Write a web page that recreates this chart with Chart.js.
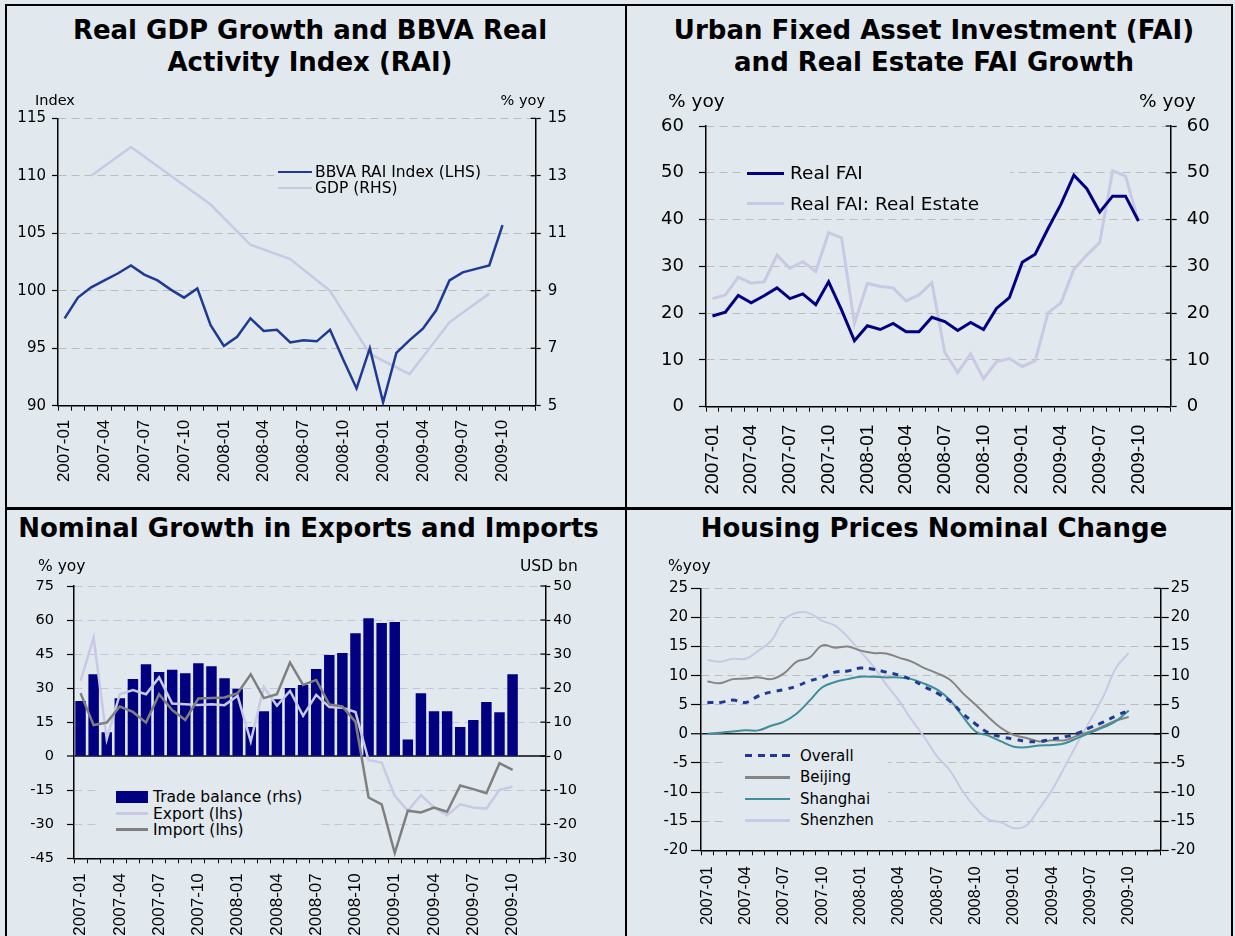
<!DOCTYPE html>
<html><head><meta charset="utf-8">
<script src="https://cdn.jsdelivr.net/npm/chart.js@4.4.1/dist/chart.umd.min.js"></script>
<style>
html,body{margin:0;padding:0;background:#E1E9EF;}
#page{position:relative;width:1235px;height:936px;overflow:hidden;background:#E1E9EF;font-family:"DejaVu Sans",sans-serif;color:#000;}
.t{position:absolute;white-space:nowrap;z-index:3;}
.title{font-weight:bold;font-size:26px;line-height:32px;text-align:center;}
canvas{position:absolute;z-index:1;}
.bd{position:absolute;background:#000;z-index:4;}
.sw{position:absolute;z-index:3;}
.lg{position:absolute;background:#E1E9EF;z-index:2;}
</style></head><body><div id="page">
<div class="bd" style="left:5px;top:4px;width:2px;height:932px"></div>
<div class="bd" style="left:5px;top:4px;width:1228px;height:2px"></div>
<div class="bd" style="left:1231px;top:4px;width:2px;height:932px"></div>
<div class="bd" style="left:625px;top:4px;width:2px;height:932px"></div>
<div class="bd" style="left:5px;top:507px;width:1228px;height:3px"></div>

<div class="t title" style="left:6px;top:14px;width:608px">Real GDP Growth and BBVA Real<br>Activity Index (RAI)</div>
<div class="t title" style="left:640px;top:14px;width:588px">Urban Fixed Asset Investment (FAI)<br>and Real Estate FAI Growth</div>
<div class="t title" style="left:6px;top:512px;width:605px">Nominal Growth in Exports and Imports</div>
<div class="t title" style="left:640px;top:512px;width:588px">Housing Prices Nominal Change</div>

<div class="t" style="left:35px;top:91px;font-size:14.5px;line-height:18px">Index</div>
<div class="t" style="left:500px;top:91px;width:45px;text-align:right;font-size:14.5px;line-height:18px">% yoy</div>
<div class="t" style="left:668px;top:89px;font-size:18.5px;line-height:24px">% yoy</div>
<div class="t" style="left:1139px;top:89px;font-size:18.5px;line-height:24px">% yoy</div>
<div class="t" style="left:38px;top:557px;font-size:15.5px;line-height:18px">% yoy</div>
<div class="t" style="left:520px;top:557px;font-size:15.5px;line-height:18px">USD bn</div>
<div class="t" style="left:668px;top:557px;font-size:15.5px;line-height:18px">%yoy</div>

<canvas id="c1" width="612" height="410" style="left:8px;top:96px"></canvas>
<canvas id="c2" width="600" height="410" style="left:630px;top:96px"></canvas>
<canvas id="c3" width="612" height="376" style="left:8px;top:560px"></canvas>
<canvas id="c4" width="600" height="376" style="left:630px;top:560px"></canvas>

<!-- legend backgrounds (opaque like the original legend boxes) -->
<div class="lg" style="left:274px;top:164px;width:213px;height:31px"></div>
<div class="lg" style="left:745px;top:158px;width:265px;height:56px"></div>
<div class="lg" style="left:100px;top:779px;width:221px;height:64px"></div>
<div class="lg" style="left:723px;top:742px;width:165px;height:90px"></div>

<!-- legends -->
<div class="sw" style="left:278px;top:170.8px;width:34px;height:2.5px;background:#1F3A93"></div>
<div class="t" style="left:315px;top:163px;font-size:15.5px;line-height:18px">BBVA RAI Index (LHS)</div>
<div class="sw" style="left:278px;top:186.8px;width:34px;height:2.5px;background:#C9C9E3"></div>
<div class="t" style="left:315px;top:179px;font-size:15.5px;line-height:18px">GDP (RHS)</div>

<div class="sw" style="left:747px;top:171.5px;width:37px;height:3px;background:#000080"></div>
<div class="t" style="left:790px;top:161px;font-size:18.5px;line-height:24px">Real FAI</div>
<div class="sw" style="left:747px;top:202px;width:37px;height:3px;background:#C9C9E3"></div>
<div class="t" style="left:790px;top:191.5px;font-size:18.5px;line-height:24px">Real FAI: Real Estate</div>

<div class="sw" style="left:116px;top:791px;width:32px;height:12px;background:#000080"></div>
<div class="t" style="left:153px;top:788px;font-size:15.5px;line-height:18px">Trade balance (rhs)</div>
<div class="sw" style="left:116px;top:812.3px;width:32px;height:2.5px;background:#C9C9E3"></div>
<div class="t" style="left:153px;top:804.5px;font-size:15.5px;line-height:18px">Export (lhs)</div>
<div class="sw" style="left:116px;top:828.3px;width:32px;height:2.5px;background:#7F7F7F"></div>
<div class="t" style="left:153px;top:820.5px;font-size:15.5px;line-height:18px">Import (lhs)</div>

<div class="sw" style="left:745px;top:754.2px;width:46px;height:3px;background:repeating-linear-gradient(to right,#1F3A93 0 7px,transparent 7px 12.5px)"></div>
<div class="t" style="left:800px;top:746.7px;font-size:15px;line-height:18px">Overall</div>
<div class="sw" style="left:745px;top:776px;width:45px;height:2.5px;background:#858585"></div>
<div class="t" style="left:800px;top:768.3px;font-size:15px;line-height:18px">Beijing</div>
<div class="sw" style="left:745px;top:797.7px;width:45px;height:2.5px;background:#408E98"></div>
<div class="t" style="left:800px;top:790px;font-size:15px;line-height:18px">Shanghai</div>
<div class="sw" style="left:745px;top:819px;width:45px;height:2.5px;background:#C9C9E3"></div>
<div class="t" style="left:800px;top:811.3px;font-size:15px;line-height:18px">Shenzhen</div>
</div>
<script>
const months = ['2007-01','2007-02','2007-03','2007-04','2007-05','2007-06','2007-07','2007-08','2007-09','2007-10','2007-11','2007-12',
  '2008-01','2008-02','2008-03','2008-04','2008-05','2008-06','2008-07','2008-08','2008-09','2008-10','2008-11','2008-12',
  '2009-01','2009-02','2009-03','2009-04','2009-05','2009-06','2009-07','2009-08','2009-09','2009-10','2009-11','2009-12'];

// Panel 1
const raiIndex = [97.6, 99.4, 100.3, 100.9, 101.5, 102.2, 101.4, 100.9, 100.1, 99.4, 100.2, 97.0,
  95.2, 96.0, 97.6, 96.5, 96.6, 95.5, 95.7, 95.6, 96.6, 94.0, 91.5, 95.0,
  90.3, 94.6, 95.7, 96.7, 98.3, 100.9, 101.6, 101.9, 102.2, 105.7];
const gdpGrowth = [null, null, 13.0, null, null, 14.0, null, null, 13.0, null, null, 12.0,
  null, null, 10.6, null, null, 10.1, null, null, 9.0, null, null, 6.8,
  null, null, 6.1, null, null, 7.9, null, null, 8.9];

// Panel 2
const realFAI = [19.4, 20.2, 23.8, 22.2, 23.7, 25.4, 23.1, 24.1, 21.8, 26.7, 20.7, 14.1,
  17.3, 16.5, 17.8, 16.0, 16.0, 19.1, 18.2, 16.3, 18.0, 16.5, 21.0, 23.3,
  30.9, 32.6, 38.1, 43.3, 49.5, 46.6, 41.6, 45.0, 45.0, 39.7];
const realEstateFAI = [23.1, 23.9, 27.7, 26.4, 26.7, 32.4, 29.6, 31.0, 28.9, 37.2, 36.1, 17.8,
  26.4, 25.7, 25.4, 22.6, 23.9, 26.5, 11.6, 7.3, 11.3, 6.0, 9.6, 10.3,
  8.6, 9.8, 20.1, 22.2, 29.4, 32.4, 35.1, 50.4, 49.3, 39.6];

// Panel 3
const tradeBalance = [16.2, 24.1, 7.0, 17.0, 22.7, 27.0, 24.7, 25.4, 24.4, 27.3, 26.4, 22.9,
  19.8, 8.6, 13.2, 16.7, 20.0, 20.9, 25.6, 29.7, 30.3, 36.1, 40.5, 39.1,
  39.4, 4.9, 18.5, 13.2, 13.2, 8.6, 10.6, 15.9, 12.9, 24.1];
const exportGrowth = [33.2, 52.3, 7.5, 27.3, 29.1, 27.3, 34.7, 23.2, 22.9, 22.6, 22.9, 22.5,
  26.6, 6.5, 30.5, 22.2, 28.8, 17.8, 27.0, 21.7, 21.4, 19.5, -1.8, -2.8,
  -17.5, -24.1, -17.1, -22.6, -26.0, -21.2, -22.6, -23.1, -14.8, -13.4];
const importGrowth = [27.8, 13.7, 14.8, 21.9, 19.5, 14.8, 27.3, 20.3, 16.0, 25.4, 25.6, 25.9,
  27.8, 36.1, 25.6, 27.3, 41.3, 31.4, 33.6, 22.8, 21.9, 15.1, -18.2, -21.2,
  -42.7, -24.0, -24.8, -22.6, -24.5, -12.9, -14.5, -16.3, -3.1, -6.0];

// Panel 4
const overall = [5.4, 5.4, 5.8, 5.4, 6.5, 7.2, 7.6, 8.2, 9.1, 9.7, 10.6, 10.8,
  11.3, 11.1, 10.6, 10.1, 9.3, 8.1, 7.0, 5.6, 3.5, 1.7, 0.2, -0.5,
  -0.9, -1.3, -1.3, -0.9, -0.5, 0.1, 1.1, 2.0, 3.1, 4.0];
const beijing = [9.0, 8.7, 9.4, 9.5, 9.7, 9.4, 10.4, 12.4, 13.1, 15.2, 14.8, 15.0,
  14.3, 13.9, 13.8, 13.1, 12.4, 11.3, 10.4, 9.3, 7.0, 5.0, 2.9, 1.0,
  -0.2, -0.7, -1.3, -1.1, -1.1, -0.3, 0.4, 1.3, 2.3, 2.9];
const shanghai = [0.0, 0.2, 0.4, 0.6, 0.6, 1.4, 2.1, 3.5, 5.7, 8.0, 8.9, 9.4,
  9.8, 9.8, 9.7, 9.7, 9.4, 8.6, 7.6, 5.8, 3.0, 0.4, -0.3, -1.3,
  -2.2, -2.3, -2.0, -1.9, -1.6, -0.7, 0.2, 1.1, 2.2, 4.0];
const shenzhen = [12.7, 12.4, 12.9, 12.9, 14.3, 16.0, 19.6, 20.8, 20.7, 19.4, 18.6, 16.6,
  14.1, 11.6, 8.5, 5.7, 2.4, -0.6, -3.9, -6.3, -9.9, -12.7, -14.7, -15.2,
  -16.2, -15.7, -12.8, -9.6, -5.6, -1.5, 2.4, 6.4, 11.3, 13.9];

const NAVY = '#000080', RAI_BLUE = '#1F3A93', LAV = '#C9C9E3', GRAY = '#7F7F7F', TEAL = '#408E98';

// draws the inner half of the right-axis tick marks (they cross the axis in the original)
const innerTicks = {
  id: 'innerTicks',
  afterDraw(chart, args, opts) {
    const s = chart.scales.y2;
    if (!s || !opts.len) return;
    const ctx = chart.ctx;
    ctx.save();
    ctx.strokeStyle = '#000';
    ctx.lineWidth = 1.2;
    s.ticks.forEach(t => {
      const y = s.getPixelForValue(t.value);
      ctx.beginPath();
      ctx.moveTo(s.left, y);
      ctx.lineTo(s.left - opts.len, y);
      ctx.stroke();
    });
    ctx.restore();
  }
};
Chart.register(innerTicks);

function xScale(h, pad, size) {
  return {
    type: 'category', offset: true,
    grid: { offset: true, drawOnChartArea: false, drawTicks: true, tickLength: 5, color: '#000', tickColor: '#000', lineWidth: 1 },
    border: { display: true, color: '#000', width: 1.5 },
    ticks: { autoSkip: false, minRotation: 90, maxRotation: 90, padding: pad, color: '#000',
      font: { family: 'Liberation Sans', size: size },
      callback: (v, i) => (i % 3 === 0 ? months[i] : '') },
    afterFit: (s) => { s.height = h; }
  };
}
function yScale(pos, min, max, step, w, size, tickLen, pad, g) {
  const on = !!g;
  return {
    position: pos, min: min, max: max,
    ticks: { stepSize: step, padding: pad, color: '#000', font: { family: 'DejaVu Sans', size: size } },
    grid: { drawOnChartArea: on, drawTicks: true, tickLength: tickLen, tickColor: '#000', tickWidth: 1.2,
      color: on ? (c => (c.tick ? g.color(c.tick.value) : '#000')) : '#000',
      lineWidth: on ? (c => (c.tick ? g.width(c.tick.value) : 1)) : 1 },
    border: { display: true, color: '#000', width: 1.5,
      dash: on ? (c => (c.tick ? g.dash(c.tick.value) : [])) : [] },
    afterFit: (s) => { s.width = w; }
  };
}
function baseOpts(padTop, innerLen, scales) {
  return {
    responsive: false, animation: false, devicePixelRatio: 1, events: [],
    layout: { padding: { top: padTop, left: 0, right: 0, bottom: 0 } },
    plugins: { legend: { display: false }, tooltip: { enabled: false }, title: { display: false },
      innerTicks: { len: innerLen } },
    elements: { point: { radius: 0 }, line: { tension: 0 } },
    scales: scales
  };
}
const dashedGrid = (bottom, col) => ({
  color: v => (v === bottom ? 'rgba(0,0,0,0)' : col),
  width: v => 1,
  dash: v => [8, 5]
});

// Panel 1
new Chart(document.getElementById('c1'), {
  type: 'line',
  data: { labels: months, datasets: [
    { label: 'BBVA RAI Index (LHS)', data: raiIndex, yAxisID: 'y', borderColor: RAI_BLUE, borderWidth: 2.5, order: 1 },
    { label: 'GDP (RHS)', data: gdpGrowth, yAxisID: 'y2', borderColor: LAV, borderWidth: 2.5, spanGaps: true, order: 2 }
  ]},
  options: baseOpts(22.3, 5, {
    x: xScale(100.3, 9, 17),
    y: yScale('left', 90, 115, 5, 50, 15, 6, 6, dashedGrid(90, '#BDBDBD')),
    y2: yScale('right', 5, 15, 2, 84.3, 15, 5, 7, null)
  })
});

// Panel 2
new Chart(document.getElementById('c2'), {
  type: 'line',
  data: { labels: months, datasets: [
    { label: 'Real FAI', data: realFAI, yAxisID: 'y', borderColor: NAVY, borderWidth: 3, order: 1 },
    { label: 'Real FAI: Real Estate', data: realEstateFAI, yAxisID: 'y2', borderColor: LAV, borderWidth: 3, order: 2 }
  ]},
  options: baseOpts(30, 5, {
    x: xScale(99.3, 13, 19),
    y: yScale('left', 0, 60, 10, 76, 18, 7, 15, dashedGrid(0, '#BDBDBD')),
    y2: yScale('right', 0, 60, 10, 59.3, 18, 6, 10, null)
  })
});

// Panel 3
new Chart(document.getElementById('c3'), {
  type: 'bar',
  data: { labels: months, datasets: [
    { type: 'bar', label: 'Trade balance (rhs)', data: tradeBalance, yAxisID: 'y2', backgroundColor: NAVY,
      barPercentage: 0.8, categoryPercentage: 1.0, order: 3 },
    { type: 'line', label: 'Export (lhs)', data: exportGrowth, yAxisID: 'y', borderColor: LAV, borderWidth: 2.5, order: 2 },
    { type: 'line', label: 'Import (lhs)', data: importGrowth, yAxisID: 'y', borderColor: GRAY, borderWidth: 2.5, order: 1 }
  ]},
  options: baseOpts(26, 5, {
    x: xScale(77.7, 10, 17),
    y: yScale('left', -45, 75, 15, 66, 14.5, 7, 13, {
      color: v => (v === -45 ? 'rgba(0,0,0,0)' : (v === 0 ? '#404040' : '#C4C4E2')),
      width: v => (v === 0 ? 2 : 1),
      dash: v => (v === 0 ? [] : [8, 5])
    }),
    y2: yScale('right', -30, 50, 10, 74.7, 14.5, 5, 3, null)
  })
});

// Panel 4
new Chart(document.getElementById('c4'), {
  type: 'line',
  data: { labels: months, datasets: [
    { label: 'Overall', data: overall, yAxisID: 'y', borderColor: RAI_BLUE, borderWidth: 3, borderDash: [6, 6], tension: 0.4, order: 1 },
    { label: 'Beijing', data: beijing, yAxisID: 'y', borderColor: '#858585', borderWidth: 2, tension: 0.4, order: 3 },
    { label: 'Shanghai', data: shanghai, yAxisID: 'y', borderColor: TEAL, borderWidth: 2, tension: 0.4, order: 2 },
    { label: 'Shenzhen', data: shenzhen, yAxisID: 'y', borderColor: LAV, borderWidth: 2, tension: 0.4, order: 4 }
  ]},
  options: baseOpts(28.3, 7, {
    x: xScale(85.7, 11, 16),
    y: yScale('left', -20, 25, 5, 71, 15, 10, 3, {
      color: v => (v === -20 ? 'rgba(0,0,0,0)' : (v === 0 ? '#222' : '#BDBDBD')),
      width: v => (v === 0 ? 1.5 : 1),
      dash: v => (v === 0 ? [] : [8, 5])
    }),
    y2: yScale('right', -20, 25, 5, 69.3, 15, 8, 2, null)
  })
});
</script>
</body></html>
